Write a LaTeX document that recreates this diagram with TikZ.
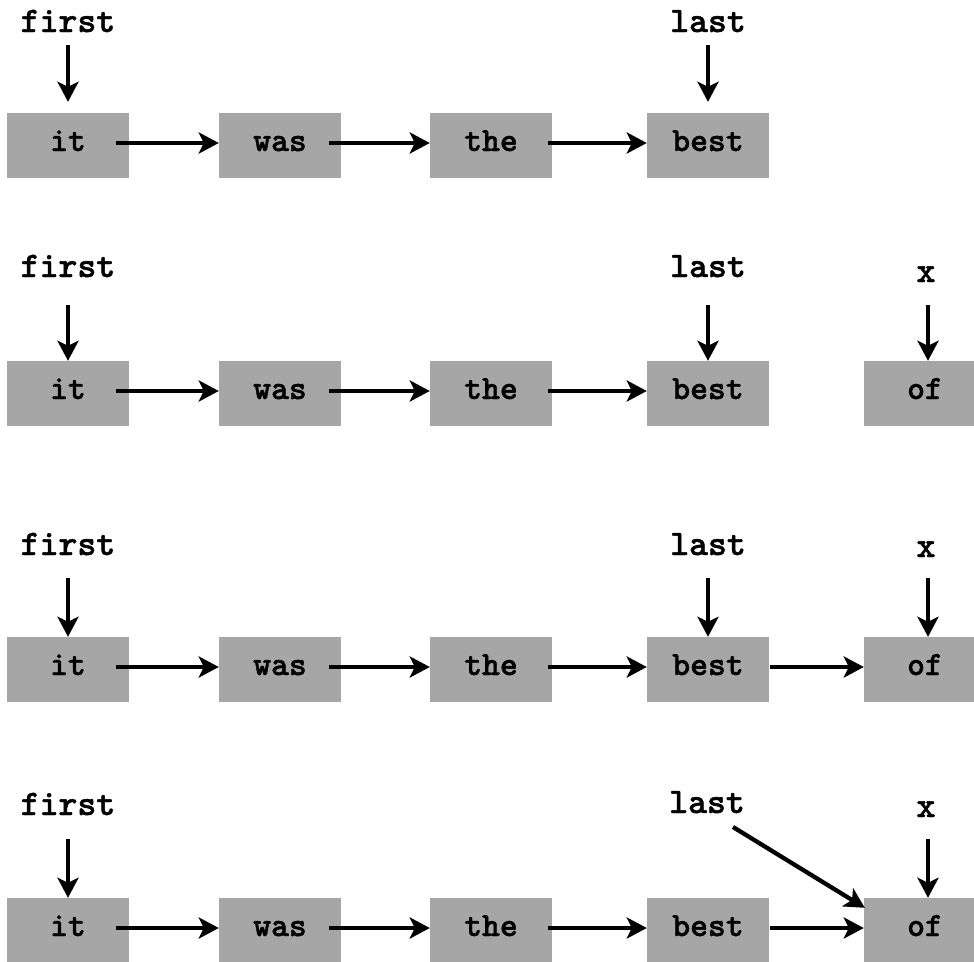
\documentclass[tikz,border=0pt]{standalone}
\usepackage{fontspec}
\usetikzlibrary{arrows.meta}
\newfontfamily\codefont{lmmonolt10-bold}[Extension=.otf, FakeBold=1.2]
\definecolor{boxgray}{RGB}{166,166,166}
\newcommand\celltext{\codefont\fontsize{34}{34}\selectfont}
\newcommand\tagtext{\codefont\fontsize{36}{36}\selectfont}
\tikzset{
  cell/.style={fill=boxgray, minimum width=122pt, minimum height=65pt, inner sep=0pt,
    text height=11pt, text depth=0pt, font=\celltext},
  tag/.style={font=\tagtext, inner sep=0pt, anchor=base},
  link/.style={line width=4.3pt, -{Stealth[length=20pt,width=21pt,inset=5pt]}},
}
\begin{document}
\begin{tikzpicture}[x=1pt,y=-1pt]
\useasboundingbox (0,0) rectangle (974,961);

% ---------- row 1: it was the best ----------
\node[cell] (a1) at (68,145.5) {it};
\node[cell] (b1) at (280,145.5) {was};
\node[cell] (c1) at (491,145.5) {the};
\node[cell] (d1) at (708,145.5) {best};
\node[tag] (f1) at (68,32) {first};
\node[tag] (l1) at (708,32) {last};
\draw[link] ([xshift=-13pt,yshift=2.5pt]a1.east) -- ([yshift=2.5pt]b1.west);
\draw[link] ([xshift=-12pt,yshift=2.5pt]b1.east) -- ([yshift=2.5pt]c1.west);
\draw[link] ([xshift=-4pt,yshift=2.5pt]c1.east) -- ([yshift=2.5pt]d1.west);
\draw[link] ([yshift=-13pt]f1.base) -- ([yshift=11pt]a1.north);
\draw[link] ([yshift=-13pt]l1.base) -- ([yshift=11pt]d1.north);

% ---------- row 2: new node x ----------
\node[cell] (a2) at (68,393.5) {it};
\node[cell] (b2) at (280,393.5) {was};
\node[cell] (c2) at (491,393.5) {the};
\node[cell] (d2) at (708,393.5) {best};
\node[cell] (e2) at (925,393.5) {of};
\node[tag] (f2) at (68,277) {first};
\node[tag] (l2) at (708,277) {last};
\node[tag] (x2) at (926,282) {x};
\draw[link] ([xshift=-13pt,yshift=2.5pt]a2.east) -- ([yshift=2.5pt]b2.west);
\draw[link] ([xshift=-12pt,yshift=2.5pt]b2.east) -- ([yshift=2.5pt]c2.west);
\draw[link] ([xshift=-4pt,yshift=2.5pt]c2.east) -- ([yshift=2.5pt]d2.west);
\draw[link] ([yshift=-28pt]f2.base) -- (a2.north);
\draw[link] ([yshift=-28pt]l2.base) -- (d2.north);
\draw[link] ([xshift=2pt,yshift=-23pt]x2.base) -- ([xshift=3pt]e2.north);

% ---------- row 3: best linked to x ----------
\node[cell] (a3) at (68,669.5) {it};
\node[cell] (b3) at (280,669.5) {was};
\node[cell] (c3) at (491,669.5) {the};
\node[cell] (d3) at (708,669.5) {best};
\node[cell] (e3) at (925,669.5) {of};
\node[tag] (f3) at (68,555) {first};
\node[tag] (l3) at (708,555) {last};
\node[tag] (x3) at (926,557) {x};
\draw[link] ([xshift=-13pt,yshift=2.5pt]a3.east) -- ([yshift=2.5pt]b3.west);
\draw[link] ([xshift=-12pt,yshift=2.5pt]b3.east) -- ([yshift=2.5pt]c3.west);
\draw[link] ([xshift=-4pt,yshift=2.5pt]c3.east) -- ([yshift=2.5pt]d3.west);
\draw[link] ([xshift=1pt,yshift=2.5pt]d3.east) -- ([yshift=2.5pt]e3.west);
\draw[link] ([yshift=-23pt]f3.base) -- (a3.north);
\draw[link] ([yshift=-23pt]l3.base) -- (d3.north);
\draw[link] ([xshift=2pt,yshift=-21pt]x3.base) -- ([xshift=3pt]e3.north);

% ---------- row 4: last moved to x ----------
\node[cell] (a4) at (68,930.5) {it};
\node[cell] (b4) at (280,930.5) {was};
\node[cell] (c4) at (491,930.5) {the};
\node[cell] (d4) at (708,930.5) {best};
\node[cell] (e4) at (925,930.5) {of};
\node[tag] (f4) at (68,815) {first};
\node[tag] (l4) at (707,813) {last};
\node[tag] (x4) at (926,817) {x};
\draw[link] ([xshift=-13pt,yshift=2.5pt]a4.east) -- ([yshift=2.5pt]b4.west);
\draw[link] ([xshift=-12pt,yshift=2.5pt]b4.east) -- ([yshift=2.5pt]c4.west);
\draw[link] ([xshift=-4pt,yshift=2.5pt]c4.east) -- ([yshift=2.5pt]d4.west);
\draw[link] ([xshift=1pt,yshift=2.5pt]d4.east) -- ([yshift=2.5pt]e4.west);
\draw[link] ([yshift=-24pt]f4.base) -- (a4.north);
\draw[link] ([xshift=26pt,yshift=-14pt]l4.base) -- ([xshift=1pt,yshift=-10pt]e4.north west);
\draw[link] ([xshift=2pt,yshift=-22pt]x4.base) -- ([xshift=3pt]e4.north);
\end{tikzpicture}
\end{document}
